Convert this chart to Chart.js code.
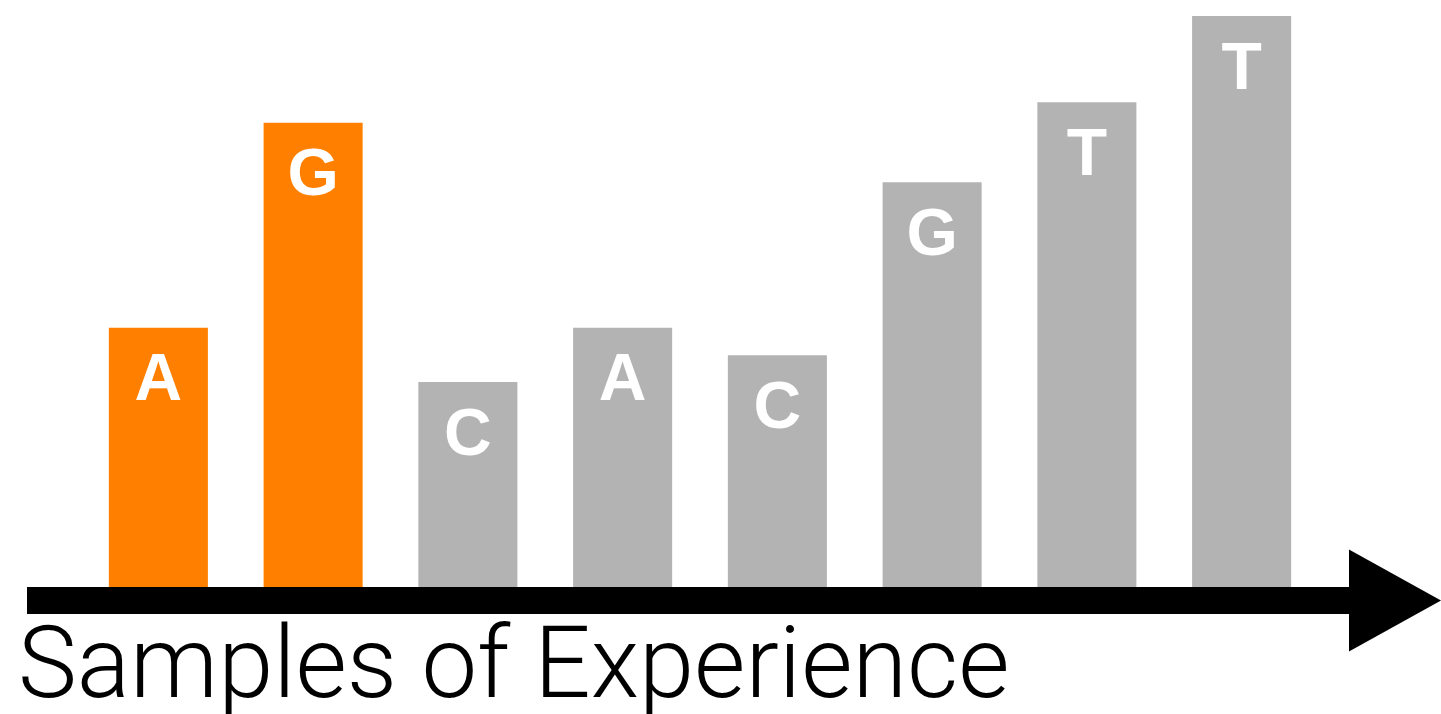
<!DOCTYPE html>
<html>
<head>
<meta charset="utf-8">
<script src="https://cdn.jsdelivr.net/npm/chart.js@4/dist/chart.umd.min.js"></script>
<style>
  html, body { margin: 0; padding: 0; background: #ffffff; }
  #wrap { width: 1441px; height: 714px; position: relative; }
</style>
</head>
<body>
<div id="wrap"><canvas id="c" width="1441" height="714"></canvas></div>
<script>
// ---- data ----
const categories = ["1", "2", "3", "4", "5", "6", "7", "8"];
const letters = ["A", "G", "C", "A", "C", "G", "T", "T"];
const values = [4.54, 8.13, 3.59, 4.54, 4.06, 7.09, 8.49, 10];
const highlighted = [true, true, false, false, false, false, false, false];
const axisTitle = "Samples of Experience";

const ORANGE = "#ff8000";
const GRAY = "#b3b3b3";

const barLabels = {
  id: "barLabels",
  afterDatasetsDraw(chart) {
    const ctx = chart.ctx;
    const meta = chart.getDatasetMeta(0);
    ctx.save();
    ctx.fillStyle = "#ffffff";
    ctx.font = "bold 66px 'Liberation Sans', Arial, Helvetica, sans-serif";
    ctx.textAlign = "center";
    ctx.textBaseline = "alphabetic";
    meta.data.forEach((bar, i) => {
      ctx.fillText(letters[i], bar.x, bar.y + 72.5);
    });
    ctx.restore();
  }
};

const arrowAxis = {
  id: "arrowAxis",
  afterDraw(chart) {
    const ctx = chart.ctx;
    const a = chart.chartArea;
    const y0 = a.bottom;
    const thick = 27;
    const mid = y0 + thick / 2;
    const lineStart = 27;
    const headStart = 1349;
    const headEnd = chart.width;
    ctx.save();
    ctx.fillStyle = "#000000";
    ctx.fillRect(lineStart, y0, headStart - lineStart + 1, thick);
    ctx.beginPath();
    ctx.moveTo(headStart, mid - 51);
    ctx.lineTo(headEnd, mid);
    ctx.lineTo(headStart, mid + 51);
    ctx.closePath();
    ctx.fill();
    // axis title
    ctx.font = "300 99.3px Roboto, 'Open Sans', Lato, sans-serif";
    ctx.textAlign = "left";
    ctx.textBaseline = "alphabetic";
    ctx.fillText(axisTitle, 18, 697);
    ctx.restore();
  }
};

new Chart(document.getElementById("c"), {
  type: "bar",
  data: {
    labels: categories,
    datasets: [{
      data: values,
      backgroundColor: highlighted.map(h => h ? ORANGE : GRAY),
      borderWidth: 0,
      barPercentage: 0.64,
      categoryPercentage: 1.0
    }]
  },
  options: {
    responsive: false,
    animation: false,
    devicePixelRatio: 1,
    layout: { padding: { top: 16, bottom: 127, left: 81, right: 122 } },
    plugins: { legend: { display: false }, tooltip: { enabled: false }, title: { display: false } },
    scales: {
      x: { display: false, offset: true, grid: { display: false } },
      y: { display: false, min: 0, max: 10, grid: { display: false } }
    }
  },
  plugins: [barLabels, arrowAxis]
});
</script>
</body>
</html>
